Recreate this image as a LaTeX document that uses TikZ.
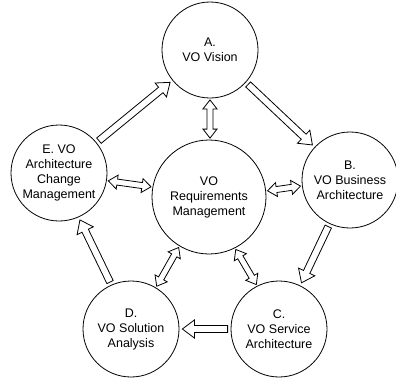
\documentclass[tikz,border=0pt]{standalone}
\usepackage{fontspec}
\setmainfont{Liberation Sans}
\usetikzlibrary{calc}
\tikzset{x=1pt, y=-1pt,
    every node/.style={
        font=\fontsize{12.5}{15}\selectfont},
    phase/.style={
        circle, draw,
        line width=0.8pt,
        minimum size=96pt,
        inner sep=0pt,
        align=center},
    hub/.style={
        phase,
        minimum size=114pt},
    blockarrow/.style={
        draw, fill=white,
        line width=0.8pt,
        line join=miter}}

% one-way block arrow between two circles
\newcommand\steparrow[2]{%
    \path let \p1=($(#2)-(#1)$), \n1={atan2(\y1,\x1)}, \n2={\n1+180} in
        ($(#1.\n1)!3pt!(#2)$) coordinate (tail)
        ($(#2.\n2)!3pt!(#1)$) coordinate (tip);
    \path ($(tip)!12pt!(tail)$) coordinate (neck);
    \draw[blockarrow] ($(tail)!3.5pt!90:(tip)$) -- ($(neck)!3.5pt!90:(tip)$)
        -- ($(neck)!9pt!90:(tip)$) -- (tip) -- ($(neck)!9pt!-90:(tip)$)
        -- ($(neck)!3.5pt!-90:(tip)$) -- ($(tail)!3.5pt!-90:(tip)$) -- cycle;}

% two-way block arrow to the hub
\newcommand\linkarrow[2]{%
    \path let \p1=($(#2)-(#1)$), \n1={atan2(\y1,\x1)}, \n2={\n1+180} in
        ($(#1.\n1)!1.5pt!(#2)$) coordinate (tail)
        ($(#2.\n2)!1.5pt!(#1)$) coordinate (tip);
    \path ($(tip)!9pt!(tail)$) coordinate (neck)
        ($(tail)!9pt!(tip)$) coordinate (back);
    \draw[blockarrow] (tail) -- ($(back)!7pt!90:(tip)$) -- ($(back)!3pt!90:(tip)$)
        -- ($(neck)!3pt!90:(tip)$) -- ($(neck)!7pt!90:(tip)$) -- (tip)
        -- ($(neck)!7pt!-90:(tip)$) -- ($(neck)!3pt!-90:(tip)$)
        -- ($(back)!3pt!-90:(tip)$) -- ($(back)!7pt!-90:(tip)$) -- cycle;}

\begin{document}
\begin{tikzpicture}
    \useasboundingbox (0,0) rectangle (396,381);
    \node[hub] (req) at (209,197) {VO\\Requirements\\Management};
    \node[phase] (vision) at (210,50) {A.\\VO Vision};
    \node[phase] (business) at (350,180) {B.\\VO Business\\Architecture};
    \node[phase] (service) at (279,329) {C.\\VO Service\\Architecture};
    \node[phase] (solution) at (131,329) {D.\\VO Solution\\Analysis};
    \node[phase] (change) at (59,173) {E. VO\\Architecture\\Change\\Management};
    \steparrow{change}{vision}
    \steparrow{vision}{business}
    \steparrow{business}{service}
    \steparrow{service}{solution}
    \steparrow{solution}{change}
    \linkarrow{vision}{req}
    \linkarrow{business}{req}
    \linkarrow{service}{req}
    \linkarrow{solution}{req}
    \linkarrow{change}{req}
\end{tikzpicture}
\end{document}
